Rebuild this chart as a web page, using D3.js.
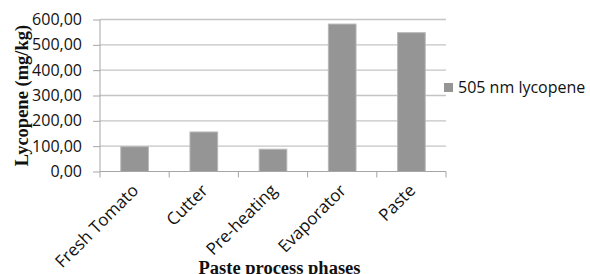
<!DOCTYPE html>
<html>
<head>
<meta charset="utf-8">
<script src="https://cdn.jsdelivr.net/npm/d3@7"></script>
<style>
  body { margin: 0; background: #fff; }
  svg { display: block; }
</style>
</head>
<body>
<figure id="bar" style="margin:0"></figure>
<script>
const phases = ["Fresh Tomato", "Cutter", "Pre-heating", "Evaporator", "Paste"];
const lycopene505 = [98, 156, 88, 582, 548];
const yTicks = [0, 100, 200, 300, 400, 500, 600];
const seriesName = "505 nm lycopene";

const width = 590, height = 274;
const plot = { left: 100, right: 446, top: 19.5, bottom: 171.5 };

const svg = d3.select("figure#bar")
  .append("svg")
  .attr("width", width)
  .attr("height", height);

const x = d3.scaleBand()
  .domain(phases)
  .range([plot.left, plot.right])
  .paddingInner(0.6)
  .paddingOuter(0.3);

const y = d3.scaleLinear()
  .domain([0, 600])
  .range([plot.bottom, plot.top]);

const fmt = d => d3.format(".2f")(d).replace(".", ",");

// gridlines
svg.append("g")
  .selectAll("line")
  .data(yTicks.slice(1))
  .enter()
  .append("line")
  .attr("x1", plot.left)
  .attr("x2", plot.right)
  .attr("y1", d => y(d))
  .attr("y2", d => y(d))
  .attr("stroke", "#c4c4c4")
  .attr("stroke-width", 1.3);

// bars
svg.append("g")
  .selectAll("rect")
  .data(phases)
  .enter()
  .append("rect")
  .attr("x", d => x(d))
  .attr("y", (d, i) => y(lycopene505[i]))
  .attr("width", x.bandwidth())
  .attr("height", (d, i) => y(0) - y(lycopene505[i]))
  .attr("fill", "#959595")
  .attr("stroke", "#b8b8b8")
  .attr("stroke-width", 1);

// y axis
const yAxis = svg.append("g")
  .attr("transform", "translate(" + plot.left + ",0)")
  .call(d3.axisLeft(y).tickValues(yTicks).tickSize(7).tickPadding(11).tickFormat(fmt));
yAxis.select(".domain").attr("stroke", "#a6a6a6").attr("d", "M0," + plot.top + "V" + plot.bottom);
yAxis.selectAll(".tick line").attr("stroke", "#a6a6a6");
yAxis.selectAll("text")
  .attr("font-family", "'Open Sans', sans-serif")
  .attr("font-size", "16px")
  .attr("fill", "#111");

// x axis line + boundary ticks
const step = x.step();
const bounds = d3.range(phases.length + 1).map(i => plot.left + i * step);
svg.append("line")
  .attr("x1", plot.left).attr("x2", plot.right)
  .attr("y1", plot.bottom).attr("y2", plot.bottom)
  .attr("stroke", "#a6a6a6");
svg.append("g")
  .selectAll("line")
  .data(bounds)
  .enter()
  .append("line")
  .attr("x1", d => d).attr("x2", d => d)
  .attr("y1", plot.bottom).attr("y2", plot.bottom + 6)
  .attr("stroke", "#a6a6a6");

// rotated category labels
svg.append("g")
  .selectAll("text")
  .data(phases)
  .enter()
  .append("text")
  .attr("text-anchor", "end")
  .attr("transform", d => "translate(" + (x(d) + x.bandwidth() / 2 + 5) + "," + (plot.bottom + 20) + ") rotate(-45)")
  .attr("font-family", "'Open Sans', sans-serif")
  .attr("font-size", "17px")
  .attr("fill", "#111")
  .text(d => d);

// axis titles
svg.append("text")
  .attr("transform", "translate(28," + ((plot.top + plot.bottom) / 2) + ") rotate(-90)")
  .attr("text-anchor", "middle")
  .attr("font-family", "'Liberation Serif', 'Times New Roman', serif")
  .attr("font-weight", "bold")
  .attr("font-size", "18.5px")
  .attr("fill", "#111")
  .text("Lycopene (mg/kg)");

svg.append("text")
  .attr("x", 279.5)
  .attr("y", 274)
  .attr("text-anchor", "middle")
  .attr("font-family", "'Liberation Serif', 'Times New Roman', serif")
  .attr("font-weight", "bold")
  .attr("font-size", "18.5px")
  .attr("fill", "#111")
  .text("Paste process phases");

// legend
const legend = svg.append("g").attr("transform", "translate(444,83)");
legend.append("rect")
  .attr("width", 9).attr("height", 9)
  .attr("fill", "#959595");
legend.append("text")
  .attr("x", 14)
  .attr("y", 4.5)
  .attr("dy", "0.36em")
  .attr("font-family", "'Open Sans', sans-serif")
  .attr("font-size", "16px")
  .attr("fill", "#111")
  .text(seriesName);
</script>
</body>
</html>
